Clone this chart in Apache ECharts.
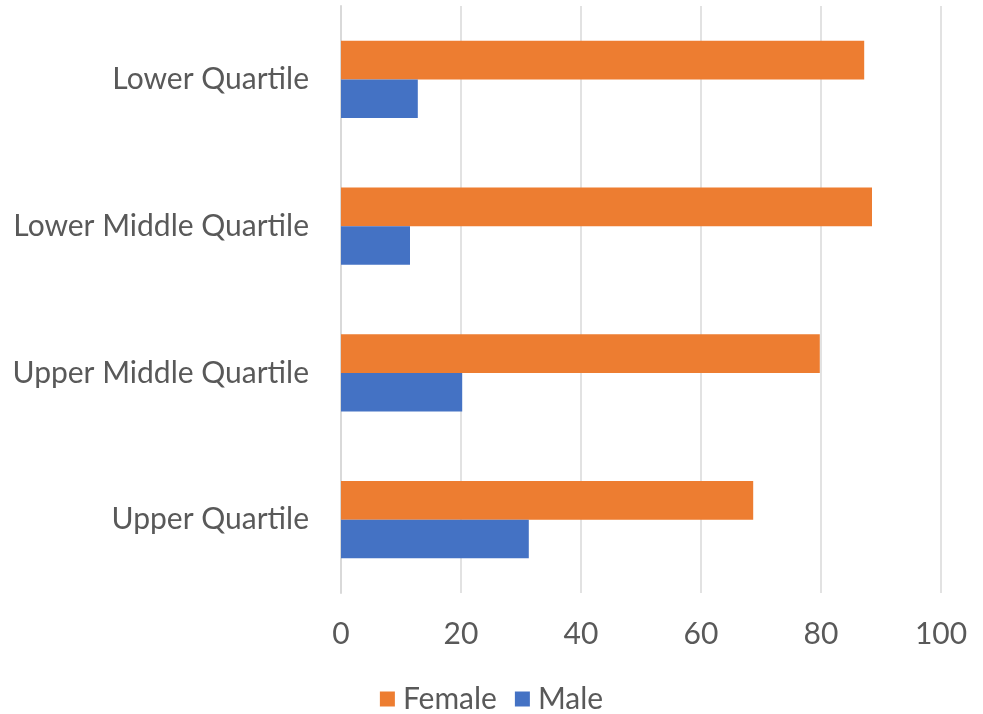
<!DOCTYPE html>
<html>
<head>
<meta charset="utf-8">
<script src="https://cdn.jsdelivr.net/npm/echarts@6/dist/echarts.min.js"></script>
<style>
  html, body { margin: 0; padding: 0; background: #fff; }
  #main { width: 983px; height: 714px; }
</style>
</head>
<body>
<div id="main"></div>
<script>
// categories listed bottom to top (category axis runs upward)
var categories = ['Upper Quartile', 'Upper Middle Quartile', 'Lower Middle Quartile', 'Lower Quartile'];
var female = [68.7, 79.8, 88.5, 87.2];
var male = [31.3, 20.2, 11.5, 12.8];
var xTicks = [0, 20, 40, 60, 80, 100];

var font = 'Lato, "Open Sans", sans-serif';
var chart = echarts.init(document.getElementById('main'));

chart.setOption({
  animation: false,
  textStyle: { fontFamily: font },
  grid: { left: 341, right: 42, top: 6, bottom: 121 },
  legend: {
    data: ['Female', 'Male'],
    bottom: -5,
    left: 'center',
    icon: 'rect',
    itemWidth: 15,
    itemHeight: 15,
    itemGap: 18,
    textStyle: { fontSize: 30, color: '#595959', fontFamily: font, padding: [0, 0, 0, 3] }
  },
  xAxis: {
    type: 'value',
    min: xTicks[0],
    max: xTicks[xTicks.length - 1],
    interval: 20,
    axisLine: { show: false },
    axisTick: { show: false },
    splitLine: { lineStyle: { color: '#d9d9d9', width: 1.5 } },
    axisLabel: { fontSize: 30, color: '#595959', margin: 26, fontFamily: font }
  },
  yAxis: {
    type: 'category',
    data: categories,
    axisLine: { lineStyle: { color: '#d9d9d9', width: 2 } },
    axisTick: { show: false },
    axisLabel: { fontSize: 30, color: '#595959', margin: 32, fontFamily: font }
  },
  series: [
    {
      name: 'Female',
      type: 'bar',
      data: female,
      barGap: '0%',
      barCategoryGap: '47.5%',
      itemStyle: { color: '#ed7d31' }
    },
    {
      name: 'Male',
      type: 'bar',
      data: male,
      barGap: '0%',
      barCategoryGap: '47.5%',
      itemStyle: { color: '#4472c4' }
    }
  ]
});
</script>
</body>
</html>
